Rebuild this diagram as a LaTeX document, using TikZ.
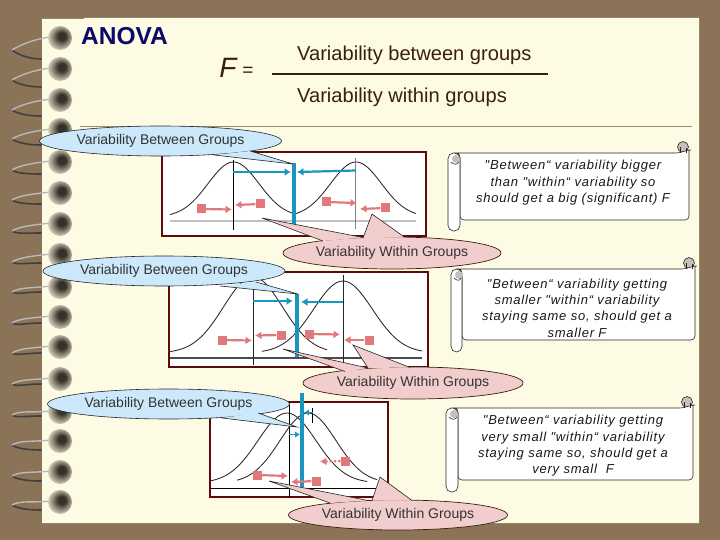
\documentclass[tikz,border=0pt]{standalone}
\usepackage{fontspec}
\setmainfont{Liberation Sans}
\newfontfamily\handfont[LetterSpace=6,ItalicFont={Liberation Sans Italic}]{Liberation Sans}
\usetikzlibrary{arrows.meta,shapes.geometric,calc}
\definecolor{bgbrown}{HTML}{8B7358}
\definecolor{paper}{HTML}{FDFBE3}
\definecolor{boxred}{HTML}{5C0A0A}
\definecolor{inkbrown}{HTML}{3A2008}
\definecolor{teal}{HTML}{1A96BE}
\definecolor{rose}{HTML}{E0787C}
\definecolor{bluecall}{HTML}{CCE9FB}
\definecolor{pinkcall}{HTML}{F2CDCD}
\definecolor{rulebrown}{HTML}{9A8A6A}
\definecolor{labelgrey}{HTML}{333333}
\definecolor{ballgrey}{HTML}{C4C0B8}
\definecolor{balldark}{HTML}{35302A}
\definecolor{ballmid}{HTML}{857E70}
\definecolor{ballpale}{HTML}{CFCBB8}
\pgfdeclareradialshading{ballshade}{\pgfpoint{5bp}{5bp}}{color(0bp)=(balldark); color(8bp)=(balldark); color(17bp)=(ballmid); color(26bp)=(ballpale); color(36bp)=(paper)}
\tikzset{
  plotbox/.style={draw=boxred,line width=1.8pt,fill=white},
  curvebell/.style={line width=0.85pt,draw=black!85,smooth},
  bluecallout/.style={ellipse,draw=black!85,line width=0.6pt,fill=bluecall,inner sep=0pt,text=labelgrey,font=\fontsize{14}{16}\selectfont},
  pinkcallout/.style={ellipse,draw=inkbrown,line width=0.7pt,fill=pinkcall,inner sep=0pt,text=labelgrey,font=\fontsize{14}{16}\selectfont},
  tailline/.style={draw=black!85,line width=0.6pt},
  pinksq/.style={rectangle,fill=rose,minimum size=9pt,inner sep=0pt},
  pinkarrow/.style={draw=rose,line width=2.2pt,-{Latex[length=6.5pt,width=8pt]}},
  bluearrow/.style={draw=teal,line width=2.2pt,-{Latex[length=6.5pt,width=8pt]}},
  bluebar/.style={draw=teal,line width=4pt},
  scrolltext/.style={align=center,text=black!90,font=\fontsize{13}{16.4}\selectfont\handfont\itshape},
  formula/.style={anchor=west,text=inkbrown,font=\fontsize{20.1}{22}\selectfont},
}
\newcommand{\spiralring}[3]{%
  \draw[line width=1.6pt,black!75,line cap=round] (41,#1+#3) .. controls (26,#1+#3) and (16,#1+#2+3) .. (12,#1+#2);
  \draw[line width=1.4pt,gray!55,line cap=round] (12,#1+#2) .. controls (20,#1+#2-5) and (34,#1+1) .. (51,#1-1);
  \shade[shading=ballshade] (60,#1) circle (12);
}
\newcommand{\bell}[6]{% centre, peak, base, sigma, from, to
  \draw[curvebell] plot[domain=#5:#6,samples=50] (\x,{#3-(#3-#2)*exp(-0.5*((\x-#1)/#4)*((\x-#1)/#4))});
}
\newcommand{\scrollshape}[6]{% left right top bottom rollright rollbottom
  \fill[ballgrey] (#2-6,#3-6) circle (5.5);
  \draw[line width=0.6pt,black!85] (#2-6,#3-6) circle (5.5);
  \draw[line width=0.6pt,black!85,fill=white,rounded corners=4pt] (#1+5,#3) -- (#2-9,#3) -- (#2-2,#3-3) [sharp corners] -- (#2,#3-3) [rounded corners=4pt] -- (#2,#4) -- (#5,#4) -- (#5,#3) -- cycle;
  \draw[line width=0.6pt,black!85] (#2-9,#3) -- (#2-9,#3-6) (#2-3,#3) -- (#2-3,#3-5);
  \draw[line width=0.6pt,black!85,fill=white,rounded corners=5.5pt] (#1,#3) rectangle (#5,#6);
  \fill[ballgrey] (#1+8,#3+6) circle (4);
  \draw[line width=0.6pt,black!85] (#1+3,#3+9) .. controls (#1+6,#3+12) and (#1+9,#3+12) .. (#5-1,#3+9);
}
\begin{document}
\begin{tikzpicture}[x=1pt,y=-1pt]
\useasboundingbox (0,0) rectangle (720,540);
\fill[bgbrown] (0,0) rectangle (720,540);
\fill[paper] (42,19) -- (84,19) -- (84,18) -- (699,18) -- (699,523) -- (42,523) -- cycle;

% spiral binding
\spiralring{38}{12}{21}
\spiralring{69}{11}{18}
\spiralring{100}{10}{16}
\spiralring{130}{9}{15}
\spiralring{162}{8}{12}
\spiralring{193}{7}{11}
\spiralring{224}{7}{9}
\spiralring{255}{7}{8}
\spiralring{287}{5}{5}
\spiralring{317}{6}{6}
\spiralring{347}{6}{6}
\spiralring{379}{5}{5}
\spiralring{412}{3}{4}
\spiralring{441}{4}{9}
\spiralring{472}{4}{9}
\spiralring{502}{3}{8}

% heading and formula
\node[anchor=west,inner sep=0pt,text={rgb,255:red,10;green,10;blue,105},font=\fontsize{24.5}{26}\selectfont\bfseries] (title) at (81,36.5) {ANOVA};
\node[inner sep=0pt,text=inkbrown,font=\fontsize{28}{30}\selectfont\itshape] (fname) at (228,68) {F};
\node[inner sep=0pt,text=inkbrown,font=\fontsize{19}{20}\selectfont] (feq) at (248,71.5) {=};
\node[formula,inner sep=0pt] (num) at (297,55) {Variability between groups};
\node[formula,inner sep=0pt] (den) at (297,97) {Variability within groups};
\coordinate (barL) at (272,74);
\coordinate (barR) at (548,74);
\draw[inkbrown,line width=2.6pt] (barL) -- (barR);
\coordinate (ruleL) at (80,126.5);
\coordinate (ruleR) at (692,126.5);
\draw[rulebrown,line width=0.7pt] (ruleL) -- (ruleR);

% ---- scrolls
\scrollshape{448}{689}{153}{220}{460}{231}
\node[scrolltext] (s1) at (573,183) {"Between“ variability bigger\\than "within“ variability so\\should get a big (significant) F};
\scrollshape{451}{695}{269}{340}{462}{352}
\node[scrolltext] (s2) at (577,308) {"Between“ variability getting\\smaller "within“ variability\\staying same so, should get a\\smaller F};
\scrollshape{446}{693}{408}{480}{458}{492}
\node[scrolltext] (s3) at (573,446) {"Between“ variability getting\\very small "within“ variability\\staying same so, should get a\\very small \ F};

% ---- plot 1
\filldraw[plotbox] (162,152) rectangle (426,236);
\draw[gray!50,line width=1.2pt] (170,221) -- (416,221);
\bell{233.5}{162}{217}{25.5}{170}{296}
\bell{356}{162}{217}{25.5}{296}{416}
\draw[black,line width=0.6pt] (233,160) -- (233,230);
\draw[gray,line width=0.6pt] (355.5,158) -- (355.5,229);
\coordinate (a1) at (233,172); \coordinate (b1) at (291,172);
\coordinate (a2) at (356,170.5); \coordinate (b2) at (297,172);
\draw[bluearrow] (a1) -- (b1);
\draw[bluearrow] (a2) -- (b2);
\draw[bluebar] (294,163) -- (294,225);
\node[pinksq] (p11) at (201,209) {};
\node[pinksq] (p12) at (260,204) {};
\node[pinksq] (p13) at (326,202) {};
\node[pinksq] (p14) at (385,208) {};
\coordinate (t11) at (232,209.5);
\coordinate (t12) at (235,205);
\coordinate (t13) at (357,203);
\coordinate (t14) at (360,209);
\draw[pinkarrow] (p11) -- (t11);
\draw[pinkarrow] (p12) -- (t12);
\draw[pinkarrow] (p13) -- (t13);
\draw[pinkarrow] (p14) -- (t14);

% ---- plot 2
\filldraw[plotbox] (169,272) rectangle (428,367);
\draw[black!70,line width=1.2pt] (170,358) -- (422,358);
\bell{253}{277}{353}{29.5}{170}{327}
\bell{343}{281}{353}{29.5}{262}{422}
\draw[black!85,line width=0.7pt] (253,288) -- (253,365);
\draw[black!85,line width=0.7pt] (343,275) -- (343,362);
\coordinate (a3) at (253,301); \coordinate (b3) at (293,301);
\coordinate (a4) at (343,302); \coordinate (b4) at (301,302);
\draw[bluearrow] (a3) -- (b3);
\draw[bluearrow] (a4) -- (b4);
\draw[bluebar] (297,294) -- (297,357);
\node[pinksq] (p21) at (222,340) {};
\node[pinksq] (p22) at (281,335) {};
\node[pinksq] (p23) at (309,334) {};
\node[pinksq] (p24) at (369,340) {};
\coordinate (t21) at (252,340.5);
\coordinate (t22) at (255,335.5);
\coordinate (t23) at (340,334.5);
\coordinate (t24) at (344,340);
\draw[pinkarrow] (p21) -- (t21);
\draw[pinkarrow] (p22) -- (t22);
\draw[pinkarrow] (p23) -- (t23);
\draw[pinkarrow] (p24) -- (t24);

% ---- plot 3
\filldraw[plotbox] (210,402) rectangle (388,497);
\draw[black,line width=0.8pt] (211,488) -- (387,488);
\bell{287}{413}{483}{29}{211}{367}
\bell{308}{413}{483}{28}{237}{377}
\draw[black,line width=0.7pt] (289,403) -- (289,497);
\draw[black,line width=0.7pt] (312,408) -- (312,423);
\coordinate (a5) at (289,434.5); \coordinate (b5) at (300,434.5);
\coordinate (a6) at (313,412.5); \coordinate (b6) at (304,412.5);
\draw[teal,line width=1.8pt,-{Latex[length=5pt,width=6.5pt]}] (a5) -- (b5);
\draw[teal,line width=1.8pt,-{Latex[length=5pt,width=6.5pt]}] (a6) -- (b6);
\draw[bluebar] (302,393) -- (302,487);
\node[pinksq] (p31) at (257,475) {};
\node[pinksq] (p32) at (316,481) {};
\node[pinksq] (p33) at (345,461) {};
\coordinate (t31) at (288,476);
\coordinate (t32) at (291,482);
\coordinate (t33) at (320,461.5);
\draw[pinkarrow] (p31) -- (t31);
\draw[pinkarrow] (p32) -- (t32);
\draw[pinkarrow,dotted] (p33) -- (t33);

% ---- callouts: Between
\node[bluecallout,minimum width=242pt,minimum height=30pt] (vb1) at (160.5,141) {Variability Between Groups};
\coordinate (vb1a) at (250,151); \coordinate (vb1b) at (214,155); \coordinate (vb1t) at (293,164);
\fill[bluecall] (vb1a) -- (vb1t) -- (vb1b) -- cycle;
\draw[tailline] (vb1a) -- (vb1t) -- (vb1b);

\node[bluecallout,minimum width=242pt,minimum height=30pt] (vb2) at (164,271) {Variability Between Groups};
\coordinate (vb2a) at (256,282); \coordinate (vb2b) at (220,286); \coordinate (vb2t) at (298,294);
\fill[bluecall] (vb2a) -- (vb2t) -- (vb2b) -- cycle;
\draw[tailline] (vb2a) -- (vb2t) -- (vb2b);

\node[bluecallout,minimum width=242pt,minimum height=30pt] (vb3) at (168.5,404) {Variability Between Groups};
\coordinate (vb3a) at (258,413); \coordinate (vb3b) at (222,418); \coordinate (vb3t) at (297,427);
\fill[bluecall] (vb3a) -- (vb3t) -- (vb3b) -- cycle;
\draw[tailline] (vb3a) -- (vb3t) -- (vb3b);

% ---- callouts: Within
\node[pinkcallout,minimum width=218pt,minimum height=32pt] (vw1) at (392,253) {Variability Within Groups};
\coordinate (w1a) at (323,241); \coordinate (w1b) at (363,237.5); \coordinate (w1t) at (262,218);
\coordinate (w1c) at (363,238); \coordinate (w1d) at (405,237.5); \coordinate (w1u) at (372,214);
\fill[pinkcall] (w1a) -- (w1t) -- (w1b) -- cycle;
\fill[pinkcall] (w1c) -- (w1u) -- (w1d) -- cycle;
\draw[tailline] (w1a) -- (w1t) -- (w1b);
\draw[tailline] (w1c) -- (w1u) -- (w1d);

\node[pinkcallout,minimum width=220pt,minimum height=32pt] (vw2) at (413,383) {Variability Within Groups};
\coordinate (w2a) at (345,371.5); \coordinate (w2b) at (368,368); \coordinate (w2t) at (283,349);
\coordinate (w2c) at (368,368); \coordinate (w2d) at (410,367.5); \coordinate (w2u) at (353,345);
\fill[pinkcall] (w2a) -- (w2t) -- (w2b) -- cycle;
\fill[pinkcall] (w2c) -- (w2u) -- (w2d) -- cycle;
\draw[tailline] (w2a) -- (w2t) -- (w2b);
\draw[tailline] (w2c) -- (w2u) -- (w2d);

\node[pinkcallout,minimum width=219pt,minimum height=30pt] (vw3) at (398,515) {Variability Within Groups};
\coordinate (w3a) at (330,503); \coordinate (w3b) at (368,500.5); \coordinate (w3t) at (269,481);
\coordinate (w3c) at (372,500.5); \coordinate (w3d) at (412,500.5); \coordinate (w3u) at (380,477);
\fill[pinkcall] (w3a) -- (w3t) -- (w3b) -- cycle;
\fill[pinkcall] (w3c) -- (w3u) -- (w3d) -- cycle;
\draw[tailline] (w3a) -- (w3t) -- (w3b);
\draw[tailline] (w3c) -- (w3u) -- (w3d);
\end{tikzpicture}
\end{document}
